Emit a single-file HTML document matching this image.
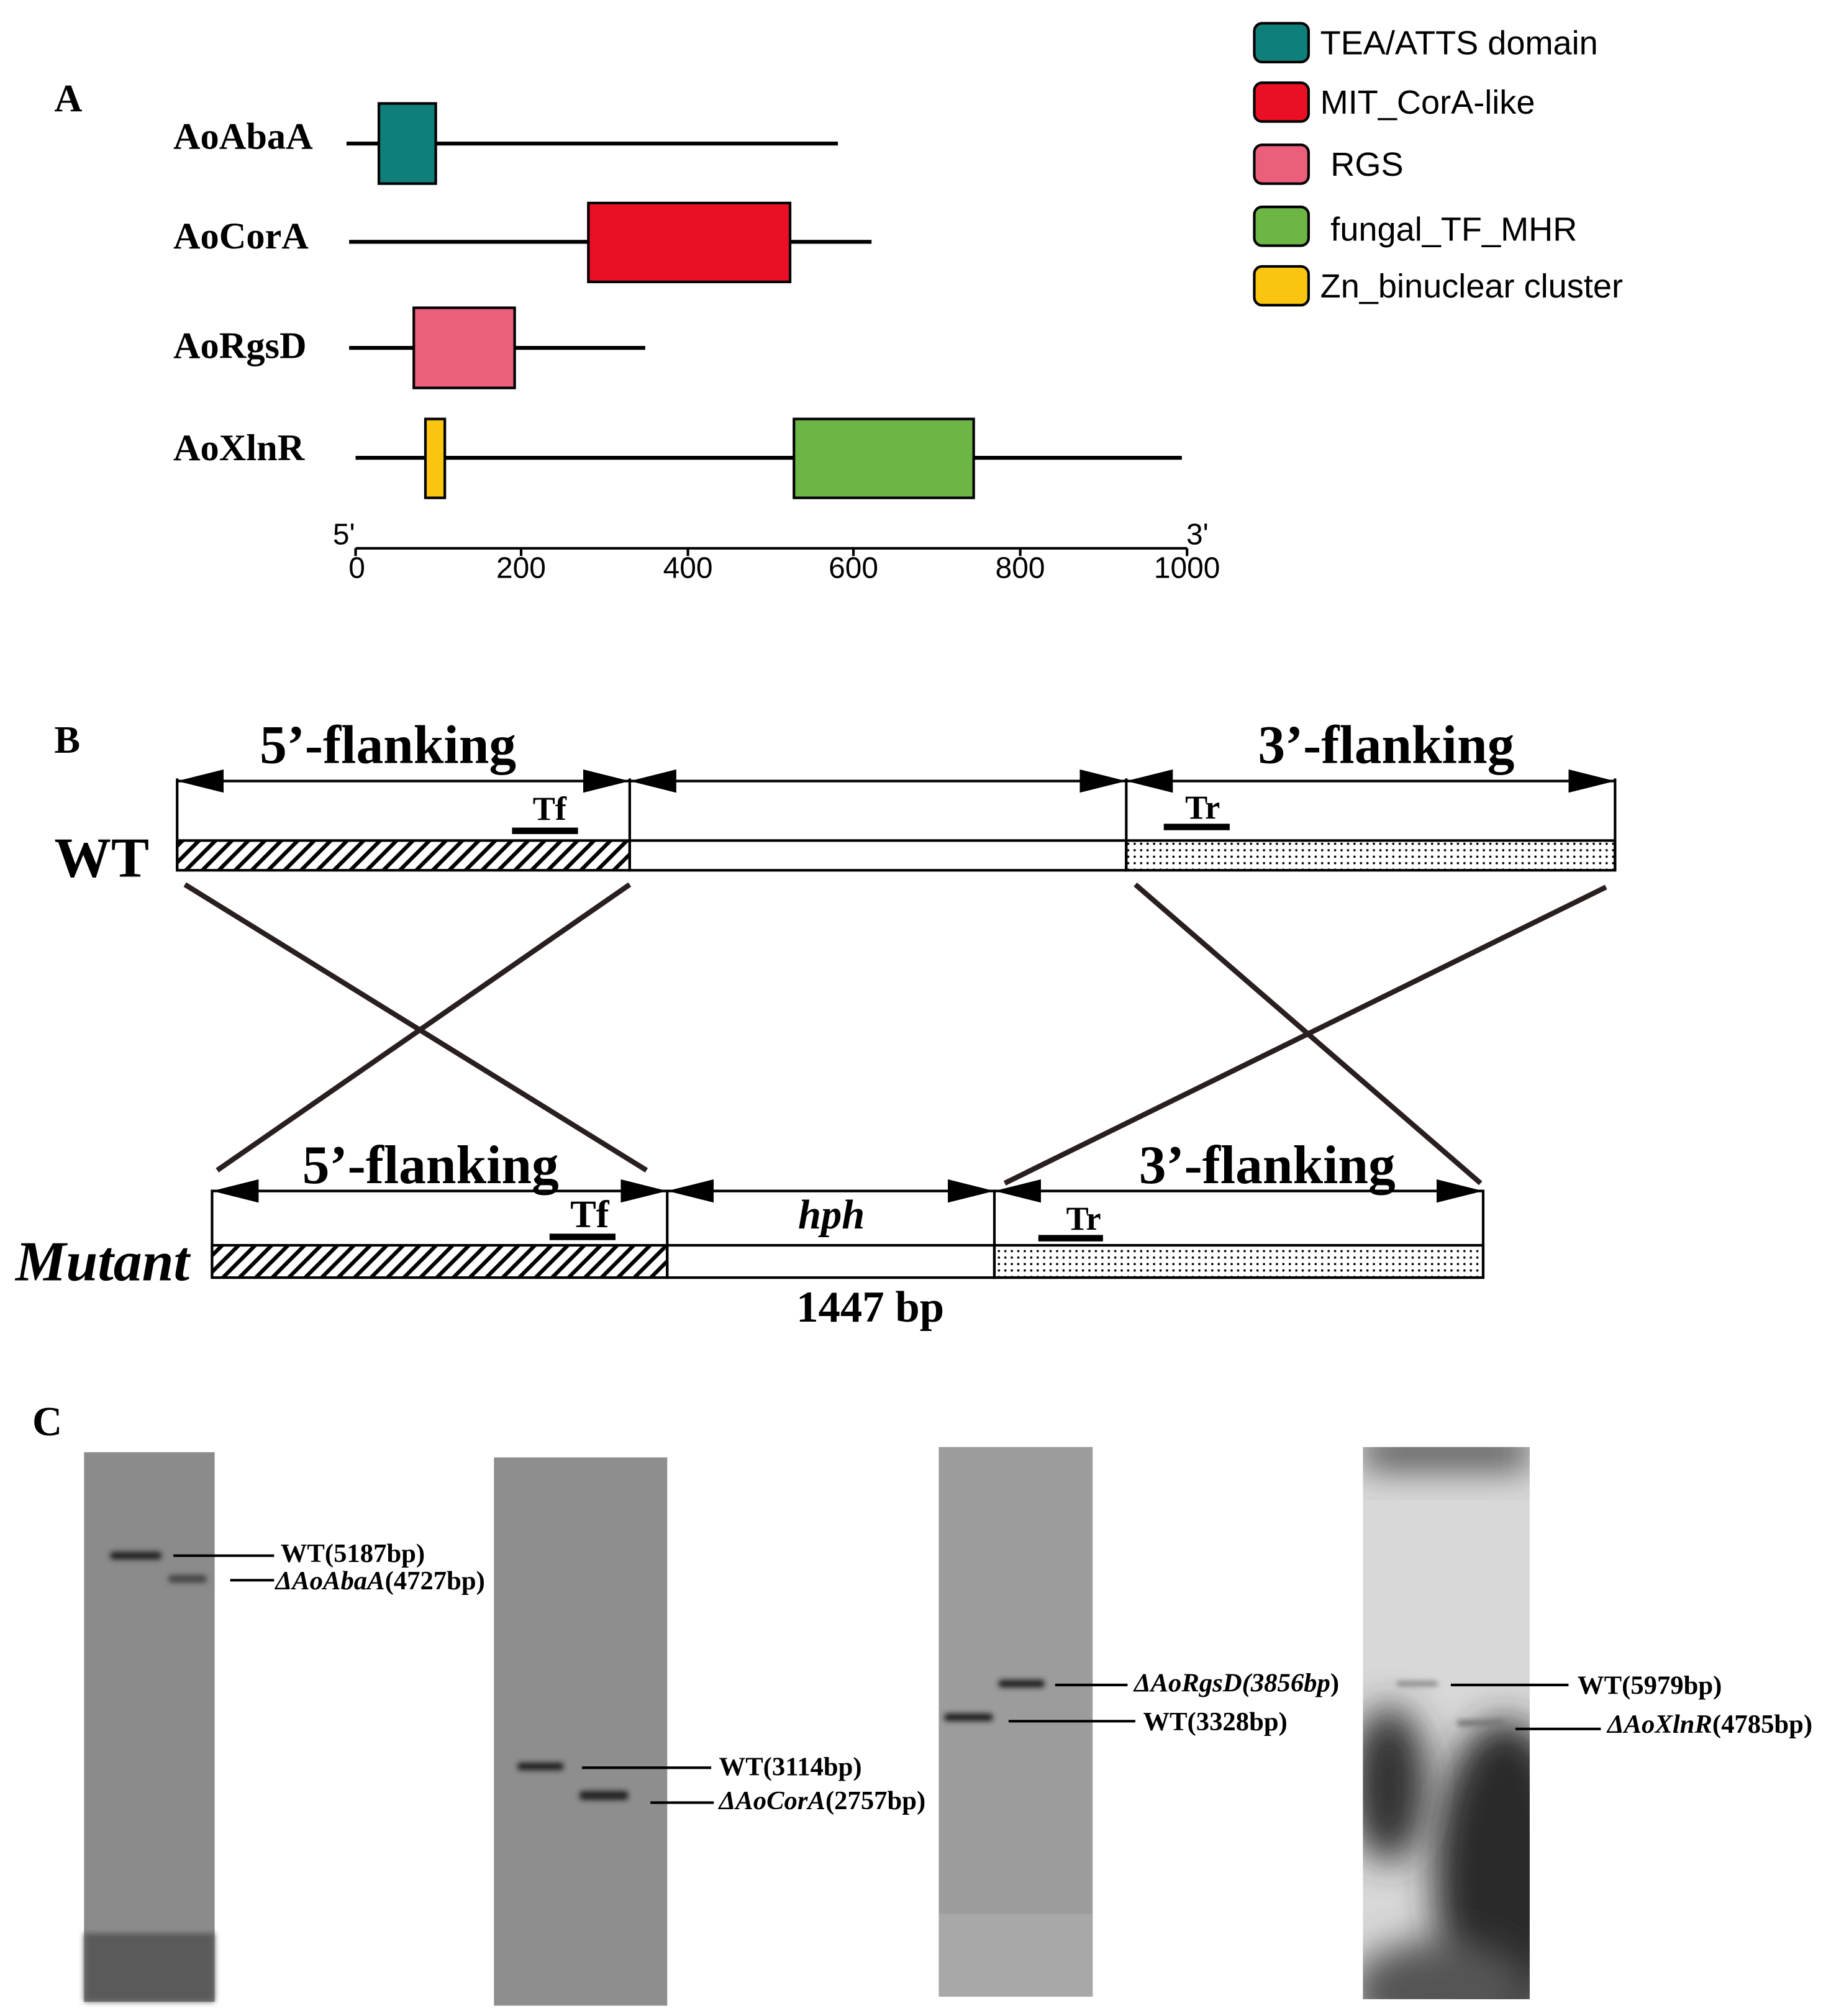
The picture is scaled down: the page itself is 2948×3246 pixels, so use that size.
<!DOCTYPE html>
<html><head><meta charset="utf-8"><style>html,body{margin:0;padding:0;background:#fff}svg{display:block}</style></head>
<body>
<svg width="2948" height="3246" viewBox="0 0 1416 1559" preserveAspectRatio="none" xmlns="http://www.w3.org/2000/svg">
<defs>
<pattern id="hatch" patternUnits="userSpaceOnUse" width="9" height="9" patternTransform="rotate(45)">
<rect width="9" height="9" fill="#fff"/><rect x="0" y="0" width="3" height="9" fill="#000"/></pattern>
<pattern id="dots" patternUnits="userSpaceOnUse" width="5" height="5">
<rect width="5" height="5" fill="#fff"/><circle cx="2.5" cy="2.5" r="0.9" fill="#000"/></pattern>
<marker id="ahb" markerWidth="36" markerHeight="18" refX="36" refY="9" orient="auto-start-reverse" markerUnits="userSpaceOnUse" viewBox="0 0 36 18"><path d="M0,0 L36,9 L0,18 z" fill="#000"/></marker>
<filter id="blur"><feGaussianBlur stdDeviation="2"/></filter>
<filter id="blur2" x="-100%" y="-100%" width="300%" height="300%"><feGaussianBlur stdDeviation="14"/></filter>
<clipPath id="g4"><rect x="1054" y="1119" width="129" height="427"/></clipPath>
</defs>

<!-- Panel A -->
<g font-family="Liberation Serif, serif" font-weight="bold" font-size="29">
<text x="42" y="86" font-size="30">A</text>
<text x="134" y="115">AoAbaA</text>
<text x="134" y="192">AoCorA</text>
<text x="134" y="277">AoRgsD</text>
<text x="134" y="356">AoXlnR</text>
</g>
<g stroke="#000" stroke-width="3">
<line x1="268" y1="111" x2="648" y2="111"/>
<line x1="270" y1="187" x2="674" y2="187"/>
<line x1="270" y1="269" x2="499" y2="269"/>
<line x1="275" y1="354" x2="914" y2="354"/>
</g>
<g stroke="#000" stroke-width="2">
<rect x="293" y="80" width="44" height="62" fill="#0f7f7a"/>
<rect x="455" y="157" width="156" height="61" fill="#ea0f25"/>
<rect x="320" y="238" width="78" height="62" fill="#ec5f7c"/>
<rect x="329" y="324" width="15" height="61" fill="#f9c511"/>
<rect x="614" y="324" width="139" height="61" fill="#6db545"/>
</g>
<g stroke="#000" stroke-width="2">
<line x1="275" y1="424" x2="918" y2="424"/>
<line x1="275" y1="424" x2="275" y2="430"/>
<line x1="403" y1="424" x2="403" y2="430"/>
<line x1="532" y1="424" x2="532" y2="430"/>
<line x1="660" y1="424" x2="660" y2="430"/>
<line x1="789" y1="424" x2="789" y2="430"/>
<line x1="918" y1="424" x2="918" y2="430"/>
</g>
<g font-family="Liberation Sans, sans-serif" font-size="23" text-anchor="middle">
<text x="276" y="447">0</text><text x="403" y="447">200</text><text x="532" y="447">400</text>
<text x="660" y="447">600</text><text x="789" y="447">800</text><text x="918" y="447">1000</text>
<text x="266" y="421">5'</text><text x="926" y="421">3'</text>
</g>
<!-- Legend -->
<g stroke="#000" stroke-width="2">
<rect x="970" y="18" width="42" height="30" rx="6" fill="#0f7f7a"/>
<rect x="970" y="64" width="42" height="30" rx="6" fill="#ea0f25"/>
<rect x="970" y="112" width="42" height="30" rx="6" fill="#ec5f7c"/>
<rect x="970" y="160" width="42" height="30" rx="6" fill="#6db545"/>
<rect x="970" y="206" width="42" height="30" rx="6" fill="#f9c511"/>
</g>
<g font-family="Liberation Sans, sans-serif" font-size="26">
<text x="1021" y="42">TEA/ATTS domain</text>
<text x="1021" y="88">MIT_CorA-like</text>
<text x="1029" y="136">RGS</text>
<text x="1029" y="186">fungal_TF_MHR</text>
<text x="1021" y="230">Zn_binuclear cluster</text>
</g>

<!-- Panel B -->
<g font-family="Liberation Serif, serif" font-weight="bold">
<text x="42" y="582" font-size="30">B</text>
<text x="300" y="590" font-size="42" text-anchor="middle">5’-flanking</text>
<text x="1072" y="590" font-size="42" text-anchor="middle">3’-flanking</text>
<text x="42" y="678" font-size="44">WT</text>
<text x="425" y="634" font-size="26" text-anchor="middle">Tf</text>
<text x="930" y="633" font-size="26" text-anchor="middle">Tr</text>
</g>
<rect x="137" y="650" width="350" height="23" fill="url(#hatch)" stroke="#000" stroke-width="2"/>
<rect x="487" y="650" width="384" height="23" fill="#fff" stroke="#000" stroke-width="2"/>
<rect x="871" y="650" width="378" height="23" fill="url(#dots)" stroke="#000" stroke-width="2"/>
<g stroke="#000" stroke-width="2">
<line x1="137" y1="602" x2="137" y2="673"/><line x1="487" y1="602" x2="487" y2="673"/>
<line x1="871" y1="602" x2="871" y2="673"/><line x1="1249" y1="602" x2="1249" y2="673"/>
<line x1="137" y1="604" x2="487" y2="604" marker-start="url(#ahb)" marker-end="url(#ahb)"/>
<line x1="487" y1="604" x2="871" y2="604" marker-start="url(#ahb)" marker-end="url(#ahb)"/>
<line x1="871" y1="604" x2="1249" y2="604" marker-start="url(#ahb)" marker-end="url(#ahb)"/>
</g>
<rect x="396" y="640" width="51" height="5" fill="#000"/>
<rect x="900" y="637" width="51" height="5" fill="#000"/>
<g stroke="#2a1f1f" stroke-width="4">
<line x1="143" y1="684" x2="500" y2="905"/>
<line x1="487" y1="684" x2="168" y2="905"/>
<line x1="878" y1="684" x2="1145" y2="915"/>
<line x1="1242" y1="686" x2="777" y2="915"/>
</g>
<g font-family="Liberation Serif, serif" font-weight="bold">
<text x="333" y="915" font-size="42" text-anchor="middle">5’-flanking</text>
<text x="980" y="915" font-size="42" text-anchor="middle">3’-flanking</text>
<text x="456" y="949" font-size="30" text-anchor="middle">Tf</text>
<text x="838" y="951" font-size="26" text-anchor="middle">Tr</text>
<text x="643" y="950" font-size="32" font-style="italic" text-anchor="middle">hph</text>
<text x="12" y="990" font-size="44" font-style="italic">Mutant</text>
<text x="673" y="1022" font-size="34" text-anchor="middle">1447 bp</text>
</g>
<rect x="164" y="963" width="352" height="25" fill="url(#hatch)" stroke="#000" stroke-width="2"/>
<rect x="516" y="963" width="253" height="25" fill="#fff" stroke="#000" stroke-width="2"/>
<rect x="769" y="963" width="378" height="25" fill="url(#dots)" stroke="#000" stroke-width="2"/>
<g stroke="#000" stroke-width="2">
<line x1="164" y1="920" x2="164" y2="988"/><line x1="516" y1="920" x2="516" y2="988"/>
<line x1="769" y1="920" x2="769" y2="988"/><line x1="1147" y1="920" x2="1147" y2="988"/>
<line x1="164" y1="921" x2="516" y2="921" marker-start="url(#ahb)" marker-end="url(#ahb)"/>
<line x1="516" y1="921" x2="769" y2="921" marker-start="url(#ahb)" marker-end="url(#ahb)"/>
<line x1="769" y1="921" x2="1147" y2="921" marker-start="url(#ahb)" marker-end="url(#ahb)"/>
</g>
<rect x="425" y="954" width="51" height="5" fill="#000"/>
<rect x="803" y="955" width="50" height="5" fill="#000"/>

<!-- Panel C -->
<text x="25" y="1110" font-family="Liberation Serif, serif" font-weight="bold" font-size="32">C</text>
<rect x="65" y="1123" width="101" height="425" fill="#8b8b8b"/>
<rect x="65" y="1495" width="101" height="53" fill="#5a5a5a" filter="url(#blur)"/>
<rect x="382" y="1127" width="134" height="424" fill="#8e8e8e"/>
<rect x="726" y="1119" width="119" height="425" fill="#9c9c9c"/>
<rect x="726" y="1480" width="119" height="64" fill="#a8a8a8"/>
<g clip-path="url(#g4)">
<rect x="1054" y="1119" width="129" height="427" fill="#d8d8d8"/>
<ellipse cx="1164" cy="1450" rx="55" ry="120" fill="#2a2a2a" filter="url(#blur2)"/>
<ellipse cx="1074" cy="1380" rx="30" ry="60" fill="#333" filter="url(#blur2)"/>
<ellipse cx="1114" cy="1540" rx="70" ry="40" fill="#555" filter="url(#blur2)"/>
<rect x="1054" y="1110" width="129" height="25" fill="#444" filter="url(#blur2)"/>
</g>
<g fill="#222" filter="url(#blur)">
<rect x="85" y="1200" width="40" height="6" rx="3"/>
<rect x="130" y="1218" width="30" height="6" rx="3" fill="#444"/>
<rect x="400" y="1363" width="36" height="6" rx="3"/>
<rect x="448" y="1385" width="38" height="7" rx="3"/>
<rect x="772" y="1299" width="36" height="6" rx="3"/>
<rect x="730" y="1325" width="38" height="6" rx="3"/>
<rect x="1080" y="1300" width="32" height="4" rx="2" fill="#888"/>
<rect x="1127" y="1330" width="36" height="5" rx="2" fill="#777"/>
</g>
<g stroke="#000" stroke-width="2">
<line x1="134" y1="1203" x2="212" y2="1203"/>
<line x1="178" y1="1222" x2="212" y2="1222"/>
<line x1="450" y1="1367" x2="550" y2="1367"/>
<line x1="503" y1="1394" x2="552" y2="1394"/>
<line x1="816" y1="1303" x2="872" y2="1303"/>
<line x1="780" y1="1331" x2="878" y2="1331"/>
<line x1="1122" y1="1303" x2="1213" y2="1303"/>
<line x1="1172" y1="1337" x2="1238" y2="1337"/>
</g>
<g font-family="Liberation Serif, serif" font-weight="bold" font-size="20.5">
<text x="217" y="1208">WT(5187bp)</text>
<text x="213" y="1229"><tspan font-style="italic">ΔAoAbaA</tspan>(4727bp)</text>
<text x="556" y="1373">WT(3114bp)</text>
<text x="556" y="1399"><tspan font-style="italic">ΔAoCorA</tspan>(2757bp)</text>
<text x="877" y="1308"><tspan font-style="italic">ΔAoRgsD(3856bp</tspan>)</text>
<text x="884" y="1338">WT(3328bp)</text>
<text x="1220" y="1310">WT(5979bp)</text>
<text x="1243" y="1340"><tspan font-style="italic">ΔAoXlnR</tspan>(4785bp)</text>
</g>
</svg>
</body></html>
